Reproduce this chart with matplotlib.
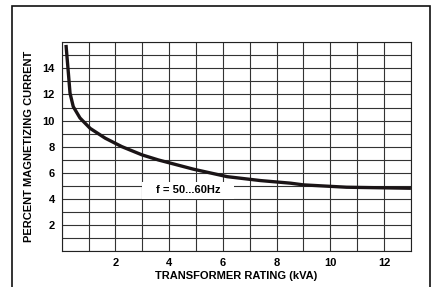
import numpy as np
import matplotlib
matplotlib.use('Agg')
import matplotlib.pyplot as plt
from matplotlib.patches import Rectangle

# curve
rating_kva = [0.16, 0.25, 0.31, 0.43, 0.68, 1.06, 1.62, 2.24, 2.99, 3.6,
              4.91, 6.16, 7.4, 8.52, 9.0, 10.6, 13.0]
magnetizing_pct = [15.8, 13.6, 12.1, 11.07, 10.2, 9.4, 8.65, 8.0, 7.37, 6.98,
                   6.27, 5.7, 5.4, 5.2, 5.07, 4.89, 4.81]

x_ticks = [2, 4, 6, 8, 10, 12]
y_ticks = [2, 4, 6, 8, 10, 12, 14]
freq_label = "f = 50...60Hz"

plt.rcParams['font.family'] = ['Liberation Sans', 'DejaVu Sans']
plt.rcParams['font.weight'] = 'bold'

fig = plt.figure(figsize=(4.33, 2.87), dpi=100)
ax = fig.add_axes([0.1425, 0.1254, 0.949 - 0.1425, 0.8526 - 0.1254])

# outer frame of the figure
frame = Rectangle((12 / 433, -0.1), (430 - 12) / 433, 1.1 - 6 / 287,
                  transform=fig.transFigure, fill=False, edgecolor='#111111',
                  linewidth=1.2, clip_on=False)
fig.patches.append(frame)

ax.set_xlim(0, 13)
ax.set_ylim(0, 16)
ax.set_xticks(x_ticks)
ax.set_yticks(y_ticks)
ax.set_xticks(np.arange(0, 14, 1), minor=True)
ax.set_yticks(np.arange(0, 17, 1), minor=True)
ax.grid(which='both', color='#333333', linewidth=0.8)
ax.set_xticklabels([str(t) for t in x_ticks], fontsize=8, fontweight='bold')
ax.set_yticklabels([str(t) for t in y_ticks], fontsize=8, fontweight='bold')
ax.tick_params(which='both', length=0, pad=5)
for s in ax.spines.values():
    s.set_color('#222222')
    s.set_linewidth(0.8)
ax.set_axisbelow(True)

ax.plot(rating_kva, magnetizing_pct, color='#1a1416', linewidth=2.4,
        solid_capstyle='butt', zorder=3)

# white patch behind the frequency note
ax.add_patch(Rectangle((3.0, 4.0), 3.4, 1.3, facecolor='white',
                       edgecolor='none', zorder=1.5))
ax.text(4.7, 4.65, freq_label, ha='center', va='center', fontsize=8,
        fontweight='bold', zorder=2)

ax.set_xlabel('TRANSFORMER RATING (kVA)', fontsize=8, fontweight='bold',
              labelpad=2)
ax.set_ylabel('PERCENT MAGNETIZING CURRENT', fontsize=8, fontweight='bold',
              labelpad=6)

fig.savefig('out.png', dpi=100)
